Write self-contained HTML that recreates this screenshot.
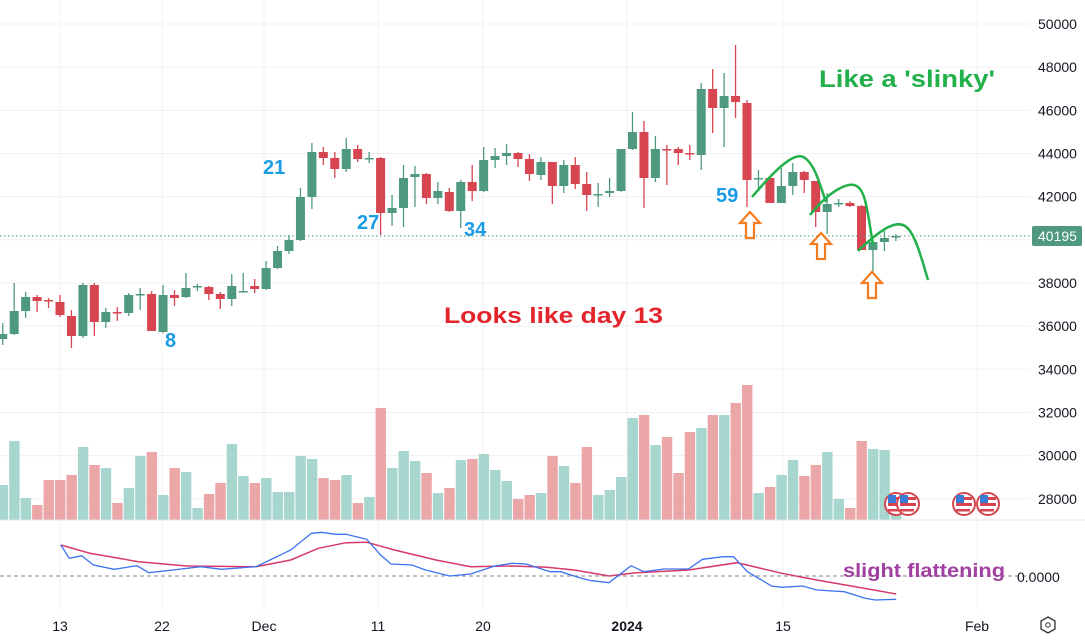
<!DOCTYPE html>
<html><head><meta charset="utf-8"><style>
body{margin:0;background:#fff;width:1085px;height:641px;overflow:hidden;font-family:"Liberation Sans",sans-serif}
svg{display:block}
</style></head><body>
<svg id="s" width="1085" height="641" xmlns="http://www.w3.org/2000/svg"></svg>
<script>
const s=document.getElementById('s');let h='';
const X=d=>60+11.45*d;
[60,162,264,378,483,627,783,977].forEach(x=>h+=`<line x1="${x}" y1="0" x2="${x}" y2="610" stroke="#f0f0f2"/>`);
const ticks=[50000,48000,46000,44000,42000,40000,38000,36000,34000,32000,30000,28000];
ticks.forEach((p,i)=>{const y=24+i*43.16;h+=`<line x1="0" y1="${y}" x2="1030" y2="${y}" stroke="#f0f0f2"/><text x="1038" y="${y+5}" font-size="14" fill="#131722">${p}</text>`});
const vt=[485,441,498,505,480,480,475,447,465,468,503,488,456,452,495,468,472,508,494,483,444,476,483,478,492,492,456,459,478,480,475,503,497,408,468,451,461,473,493,488,460,459,454,470,481,499,495,493,456,466,483,447,495,490,477,418,415,445,437,473,432,428,415,415,403,385,493,487,475,460,476,465,452,499,508,441,449,450];
const C=[[339,334,323,345],[334,311,283,335],[311,297,292,318],[297,301,295,312],[300,301,298,308],[302,315,295,317],[316,336,310,348],[336,285,283,338],[285,322,283,336],[322,312,308,328],[312,313,307,321],[313,295,293,316],[295,294,288,310],[294,331,291,331],[332,295,285,333],[295,298,290,306],[297,288,273,298],[287,286,284,291],[287,294,286,300],[294,299,292,309],[299,286,274,306],[292,291,273,291],[286,289,279,293],[289,268,261,290],[268,251,246,269],[251,240,235,254],[240,197,188,241],[197,152,143,209],[152,158,147,165],[158,169,152,178],[169,149,138,172],[149,159,145,162],[159,158,152,163],[158,213,157,235],[213,208,195,226],[208,178,165,227],[177,174,166,207],[174,198,173,204],[198,191,182,204],[192,211,188,212],[211,182,180,228],[182,191,165,201],[191,160,147,192],[160,156,148,168],[156,153,144,165],[153,159,152,167],[159,174,154,181],[175,162,157,180],[162,186,162,204],[186,165,160,193],[165,184,157,189],[184,195,172,211],[195,194,183,207],[193,191,178,197],[191,149,149,192],[149,132,112,150],[132,178,121,208],[178,149,136,182],[149,150,145,185],[149,153,147,165],[153,154,145,160],[155,89,83,170],[89,108,69,133],[108,96,73,147],[96,102,45,118],[103,180,100,207],[179,178,170,188],[178,203,178,203],[203,186,168,203],[186,172,163,195],[172,180,171,193],[181,212,181,227],[212,204,193,234],[204,203,199,207],[203,206,201,207],[206,250,205,250],[250,242,240,272],[242,238,231,251],[237,236,234,241]];
C.forEach((c,i)=>{const d=i-5,x=X(d);const g=c[1]<=c[0];const col=g?'#4f9a7f':'#d64550';
 const vc=g?'#a7d6cf':'#eba6a8';const t=vt[i]||500;h+=`<rect x="${x-5}" y="${t}" width="10.4" height="${520-t}" fill="${vc}"/>`;
 h+=`<line x1="${x}" y1="${c[2]}" x2="${x}" y2="${c[3]}" stroke="${col}" stroke-width="1.3"/>`;
 const top=Math.min(c[0],c[1]),ht=Math.max(1.5,Math.abs(c[0]-c[1]));h+=`<rect x="${x-4.5}" y="${top}" width="9" height="${ht}" fill="${col}"/>`;});
h+=`<line x1="0" y1="520" x2="1085" y2="520" stroke="#e0e3eb"/>`;
h+=`<line x1="0" y1="236" x2="1030" y2="236" stroke="#4f9a7f" stroke-dasharray="1.5,2.5"/>`;
h+=`<rect x="1032" y="226" width="50" height="20" rx="2" fill="#4f9a7f"/><text x="1038" y="241" font-size="14" fill="#fff">40195</text>`;
function flag(x){return `<g><circle cx="${x}" cy="504" r="11" fill="#fff" stroke="#d64550" stroke-width="2"/><rect x="${x-8}" y="497" width="16" height="3" fill="#d64550"/><rect x="${x-8}" y="503" width="16" height="3" fill="#d64550"/><rect x="${x-8}" y="509" width="14" height="2.5" fill="#d64550"/><rect x="${x-8}" y="495" width="8" height="8" fill="#3a7bd5"/></g>`}
[896,908,964,988].forEach(x=>h+=flag(x));
const bl='font-weight="bold" fill="#1a9be6" font-size="20"';
h+=`<text x="263" y="174" ${bl}>21</text><text x="357" y="229" ${bl}>27</text><text x="464" y="236" ${bl}>34</text><text x="165" y="347" ${bl}>8</text><text x="716" y="202" ${bl}>59</text>`;
h+=`<text x="444" y="323" font-size="22" font-weight="bold" fill="#e3242b" textLength="219" lengthAdjust="spacingAndGlyphs">Looks like day 13</text>`;
h+=`<text x="819" y="87" font-size="24" font-weight="bold" fill="#22b04b" textLength="176" lengthAdjust="spacingAndGlyphs">Like a 'slinky'</text>`;
const gr='fill="none" stroke="#22b04b" stroke-width="2.5"';
h+=`<path d="M752 197 C775 170 795 150 805 158 C815 165 820 185 826 202" ${gr}/>`;
h+=`<path d="M810 215 C830 190 850 180 858 187 C866 193 868 215 873 245" ${gr}/>`;
h+=`<path d="M858 251 C880 230 895 220 905 226 C915 232 922 260 928 280" ${gr}/>`;
function arr(x,y){return `<path d="M${x} ${y} l-10 11 h6 v15 h8 v-15 h6 z" fill="#fff" stroke="#f47c20" stroke-width="2.2"/>`}
h+=arr(750,212)+arr(821,233)+arr(872,272);
h+=`<line x1="0" y1="576" x2="1030" y2="576" stroke="#888" stroke-dasharray="4,3"/>`;
const bp=[[88,105],[100,145],[118,137],[135,165],[165,178],[198,167],[215,188],[250,180],[290,170],[320,178],[370,170],[420,120],[450,70],[465,67],[485,73],[500,73],[530,88],[550,135],[565,162],[595,165],[615,180],[650,198],[680,192],[715,168],[740,160],[760,162],[795,185],[810,185],[840,205],[855,212],[880,218],[912,167],[930,185],[960,177],[995,177],[1015,148],[1045,140],[1060,140],[1080,185],[1115,228],[1130,232],[1160,228],[1180,240],[1220,245],[1250,265],[1265,270],[1295,268]];
const rp=[[88,105],[130,130],[200,155],[270,168],[370,170],[420,150],[460,115],[500,98],[530,97],[570,120],[630,150],[680,170],[740,168],[790,172],[830,180],[880,198],[920,188],[995,180],[1065,158],[1130,190],[1180,210],[1230,228],[1295,252]];
const pts=a=>a.map(p=>(p[0]/1.445).toFixed(1)+','+(510+p[1]/3).toFixed(1)).join(' ');
h+=`<polyline points="${pts(rp)}" fill="none" stroke="#d63a6a" stroke-width="1.5"/>`;
h+=`<polyline points="${pts(bp)}" fill="none" stroke="#3d73f0" stroke-width="1.3"/>`;
h+=`<text x="843" y="577" font-size="19" font-weight="bold" fill="#a040a0" textLength="162" lengthAdjust="spacingAndGlyphs">slight flattening</text>`;
h+=`<text x="1017" y="582" font-size="14" fill="#131722">0.0000</text>`;
[[60,'13'],[162,'22'],[264,'Dec'],[378,'11'],[483,'20'],[627,'2024'],[783,'15'],[977,'Feb']].forEach(t=>h+=`<text x="${t[0]}" y="631" font-size="14" text-anchor="middle" fill="#131722" ${t[1]=='2024'?'font-weight="bold"':''}>${t[1]}</text>`);
h+=`<path d="M1048 617 l7 4 v8 l-7 4 l-7 -4 v-8 z" fill="none" stroke="#333" stroke-width="1.3"/><circle cx="1048" cy="625" r="2.2" fill="none" stroke="#333"/>`;
s.innerHTML=h;
</script>
</body></html>
